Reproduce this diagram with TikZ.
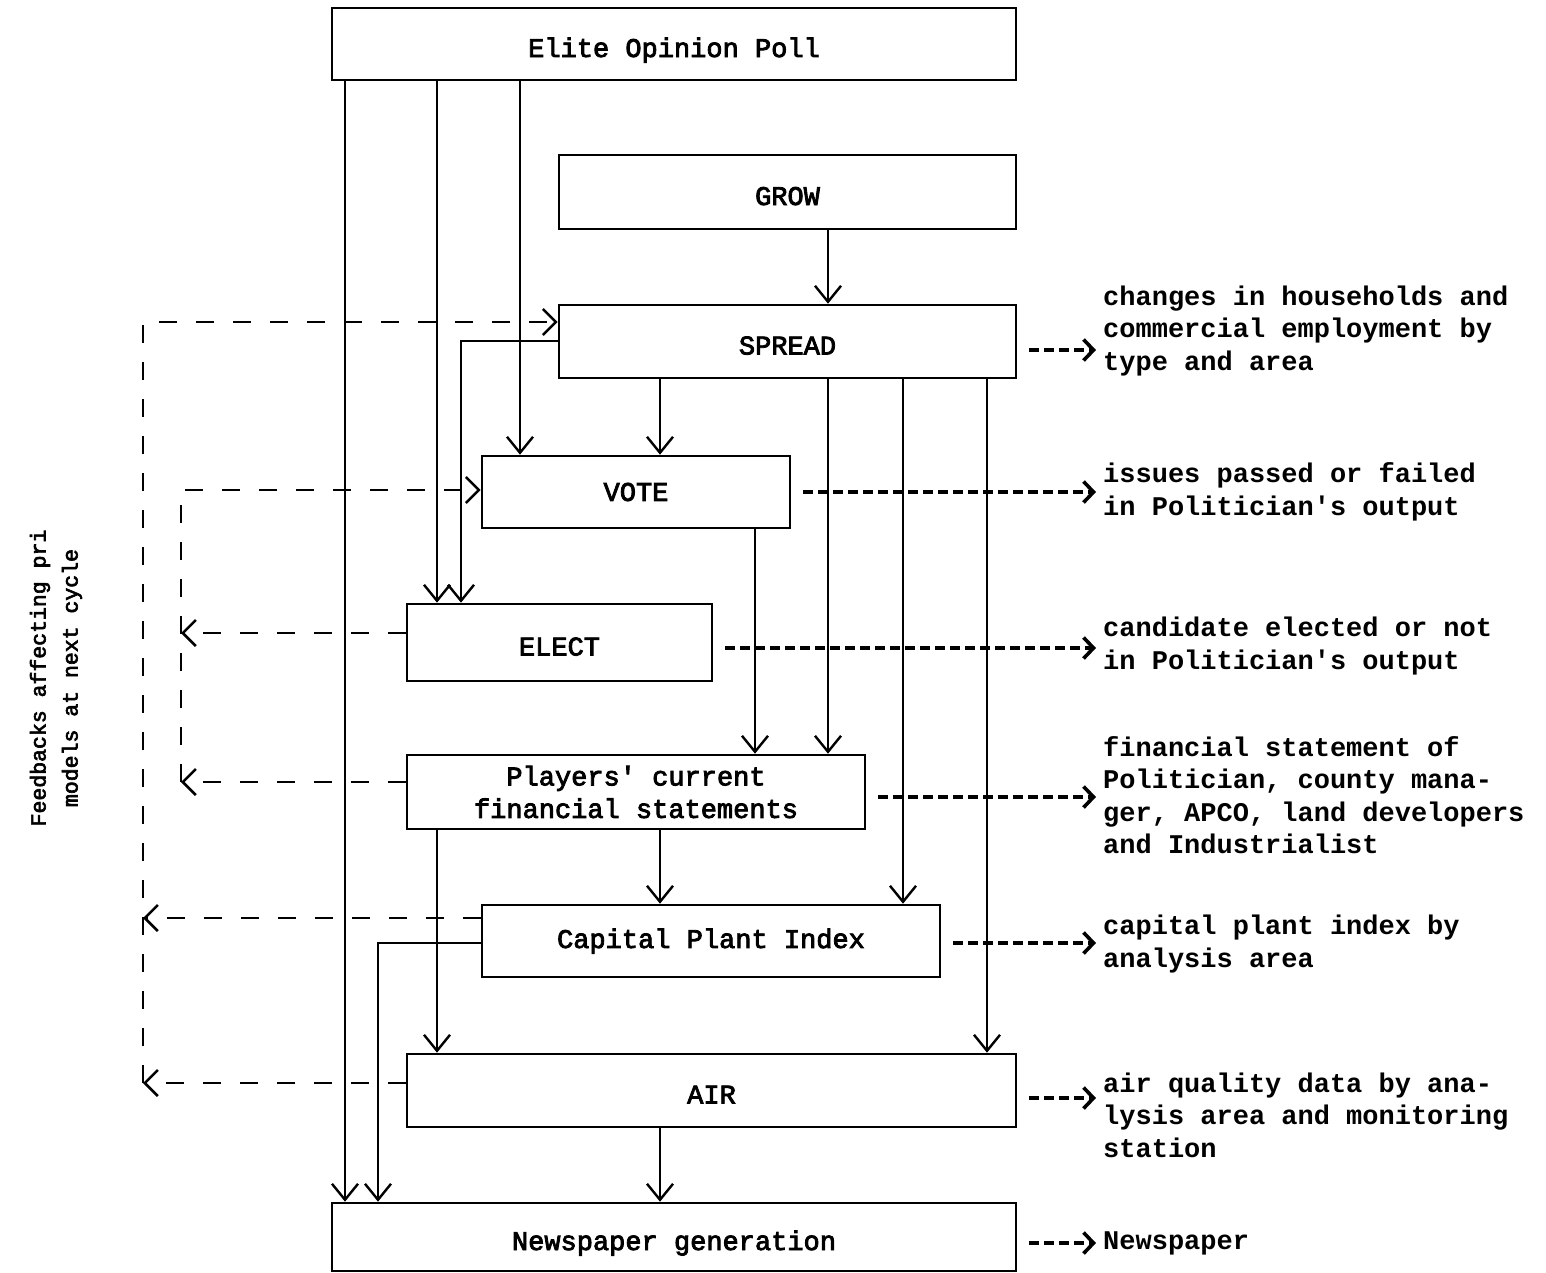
\documentclass[tikz,border=0pt]{standalone}
\usepackage{fontspec}
\setmonofont{Liberation Mono}
\newfontfamily\boxmono{Liberation Mono}[FakeBold=3]
\usetikzlibrary{arrows.meta}
\begin{document}
\begin{tikzpicture}[x=1pt,y=-1pt,
  modbox/.style={draw, line width=2.6pt, inner sep=0pt, align=center,
    font=\boxmono\fontsize{27}{32.5}\selectfont},
  lowtext/.style={text height=26pt, text depth=0pt},
  conn/.style={line width=1.8pt,
    -{Straight Barb[length=16pt,width=26pt,line width=2.4pt]}},
  fb/.style={line width=2.8pt, dash pattern=on 18pt off 19pt},
  fbtip/.style={-{Straight Barb[length=13pt,width=26pt,line width=2.6pt]}},
  outarr/.style={line width=4.4pt, dash pattern=on 10pt off 5pt,
    shorten <=12pt, shorten >=7pt,
    -{Straight Barb[length=10pt,width=21pt,line width=3.6pt]}},
  note/.style={anchor=west, inner sep=0pt, align=left,
    font=\ttfamily\bfseries\fontsize{27}{32.5}\selectfont}]

\useasboundingbox (0,0) rectangle (1546,1272);

% model boxes
\node[modbox, lowtext, minimum width=684pt, minimum height=72pt] (elite) at (674,44) {Elite Opinion Poll};
\node[modbox, lowtext, minimum width=457pt, minimum height=74pt] (grow) at (787.5,192) {GROW};
\node[modbox, lowtext, minimum width=457pt, minimum height=73pt] (spread) at (787.5,341.5) {SPREAD};
\node[modbox, minimum width=308pt, minimum height=72pt] (vote) at (636,492) {VOTE};
\node[modbox, lowtext, minimum width=305pt, minimum height=77pt] (elect) at (559.5,642.5) {ELECT};
\node[modbox, minimum width=458pt, minimum height=74pt] (players) at (636,792) {Players' current\\financial statements};
\node[modbox, minimum width=458pt, minimum height=72pt] (capital) at (711,941) {Capital Plant Index};
\node[modbox, lowtext, minimum width=609pt, minimum height=73pt] (air) at (711.5,1090.5) {AIR};
\node[modbox, lowtext, minimum width=684pt, minimum height=68pt] (news) at (674,1237) {Newspaper generation};

% columns of the vertical flows
\coordinate (cA) at (345,0);
\coordinate (cB) at (437,0);
\coordinate (cC) at (520,0);
\coordinate (cD) at (461,0);
\coordinate (cE) at (660,0);
\coordinate (cF) at (755,0);
\coordinate (cG) at (828,0);
\coordinate (cH) at (903,0);
\coordinate (cI) at (987,0);
\coordinate (cJ) at (378,0);
\coordinate (fbO) at (143,0);
\coordinate (fbI) at (181,0);

% rows of the horizontal runs
\coordinate (rSpreadIn) at (0,322);
\coordinate (rSpreadOut) at (0,341);
\coordinate (rVoteIn) at (0,490);
\coordinate (rElectFb) at (0,633);
\coordinate (rPlayFb) at (0,782);
\coordinate (rCapFb) at (0,918);
\coordinate (rCapOut) at (0,943);
\coordinate (rAirFb) at (0,1083);

% data flows between models
\draw[conn] (elite.south -| cA) -- (news.north -| cA);
\draw[conn] (elite.south -| cB) -- (elect.north -| cB);
\draw[conn] (elite.south -| cC) -- (vote.north -| cC);
\draw[conn] (grow.south -| cG) -- (spread.north -| cG);
\draw[conn] (spread.west |- rSpreadOut) -| (elect.north -| cD);
\draw[conn] (spread.south -| cE) -- (vote.north -| cE);
\draw[conn] (spread.south -| cG) -- (players.north -| cG);
\draw[conn] (spread.south -| cH) -- (capital.north -| cH);
\draw[conn] (spread.south -| cI) -- (air.north -| cI);
\draw[conn] (vote.south -| cF) -- (players.north -| cF);
\draw[conn] (players.south -| cE) -- (capital.north -| cE);
\draw[conn] (players.south -| cB) -- (air.north -| cB);
\draw[conn] (capital.west |- rCapOut) -| (news.north -| cJ);
\draw[conn] (air.south -| cE) -- (news.north -| cE);

% feedback loops to the next cycle
\draw[fb, fbtip] (fbO |- rAirFb) -- (fbO |- rSpreadIn) -- (spread.west |- rSpreadIn);
\draw[fb, fbtip] (air.west |- rAirFb) -- (fbO |- rAirFb);
\draw[fb, fbtip] (capital.west |- rCapFb) -- (fbO |- rCapFb);
\draw[fb, fbtip] (fbI |- rPlayFb) -- (fbI |- rVoteIn) -- (vote.west |- rVoteIn);
\draw[fb, fbtip] (elect.west |- rElectFb) -- (fbI |- rElectFb);
\draw[fb, fbtip] (players.west |- rPlayFb) -- (fbI |- rPlayFb);

\node[rotate=90, align=center, inner sep=0pt,
  font=\boxmono\fontsize{21.5}{32}\selectfont] (fbtext) at (56,678)
  {Feedbacks affecting pri\\models at next cycle};

% outputs of each model
\node[note] (chg) at (1103,331) {changes in households and\\commercial employment by\\type and area};
\node[note] (iss) at (1103,492) {issues passed or failed\\in Politician's output};
\node[note] (cand) at (1103,646) {candidate elected or not\\in Politician's output};
\node[note] (fin) at (1103,795) {financial statement of\\Politician, county mana-\\ger, APCO, land developers\\and Industrialist};
\node[note] (cpi) at (1103,944) {capital plant index by\\analysis area};
\node[note] (aq) at (1103,1115) {air quality data by ana-\\lysis area and monitoring\\station};
\node[note] (np) at (1103,1243) {Newspaper};

\coordinate (oSpread) at (0,350);
\coordinate (oVote) at (0,492);
\coordinate (oElect) at (0,648);
\coordinate (oPlay) at (0,797);
\coordinate (oCap) at (0,943);
\coordinate (oAir) at (0,1098);
\coordinate (oNews) at (0,1243);

\draw[outarr] (spread.east |- oSpread) -- (chg.west |- oSpread);
\draw[outarr] (vote.east |- oVote) -- (iss.west |- oVote);
\draw[outarr] (elect.east |- oElect) -- (cand.west |- oElect);
\draw[outarr] (players.east |- oPlay) -- (fin.west |- oPlay);
\draw[outarr] (capital.east |- oCap) -- (cpi.west |- oCap);
\draw[outarr] (air.east |- oAir) -- (aq.west |- oAir);
\draw[outarr] (news.east |- oNews) -- (np.west |- oNews);
\end{tikzpicture}
\end{document}
